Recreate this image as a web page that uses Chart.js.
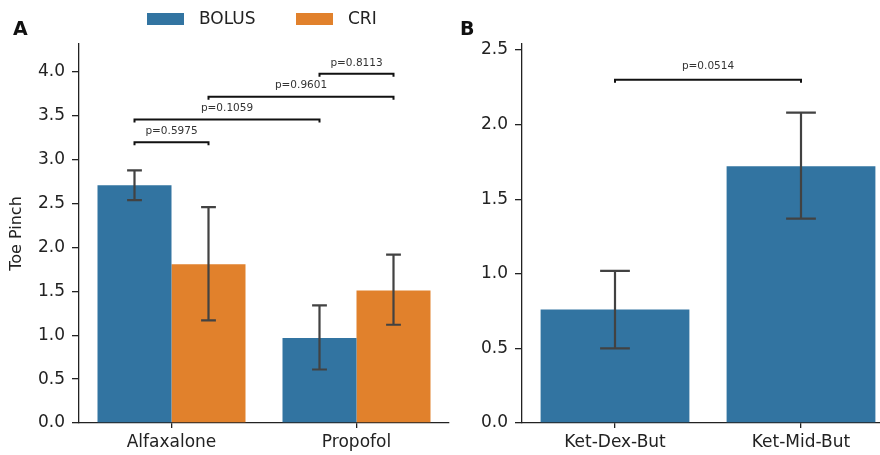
<!DOCTYPE html>
<html>
<head>
<meta charset="utf-8">
<script src="https://cdn.jsdelivr.net/npm/chart.js@4.4.1/dist/chart.umd.min.js"></script>
<style>
  html, body { margin: 0; padding: 0; background: #fff; overflow: hidden; }
  #wrap { position: relative; width: 880px; height: 455px; overflow: hidden; }
  canvas { position: absolute; top: 0; }
  #chartA { left: 0; }
  #chartB { left: 440px; }
</style>
</head>
<body>
<div id="wrap">
  <canvas id="chartA" width="460" height="455"></canvas>
  <canvas id="chartB" width="470" height="455"></canvas>
</div>
<script>
// Panel A: single-agent protocols, bolus vs CRI
const drugs = ["Alfaxalone", "Propofol"];
const bolusMean = [2.71, 0.97];
const bolusLow = [2.54, 0.61];
const bolusHigh = [2.88, 1.34];
const criMean = [1.81, 1.51];
const criLow = [1.17, 1.12];
const criHigh = [2.46, 1.92];
const ticksA = [0, 0.5, 1, 1.5, 2, 2.5, 3, 3.5, 4];

// comparisons in panel A: [datasetIndex, categoryIndex]
const pTextA = ["p=0.5975", "p=0.1059", "p=0.9601", "p=0.8113"];
const pLevelA = [3.2, 3.46, 3.72, 3.98];
const pFromA = [[0, 0], [0, 0], [1, 0], [0, 1]];
const pToA = [[1, 0], [0, 1], [1, 1], [1, 1]];

// Panel B: combination protocols
const combos = ["Ket-Dex-But", "Ket-Mid-But"];
const comboMean = [0.76, 1.72];
const comboLow = [0.50, 1.37];
const comboHigh = [1.02, 2.08];
const ticksB = [0, 0.5, 1, 1.5, 2, 2.5];

const pTextB = ["p=0.0514"];
const pLevelB = [2.3];
const pFromB = [[0, 0]];
const pToB = [[0, 1]];

const FONT = '"DejaVu Sans", sans-serif';
const INK = "#222";
const BLUE = "#3274a1";
const ORANGE = "#e1812c";

// vertical error bars with caps, taken from errLow / errHigh on each dataset
const errorBars = {
  id: "errorBars",
  afterDatasetsDraw(chart) {
    const { ctx } = chart;
    const y = chart.scales.y;
    ctx.save();
    ctx.strokeStyle = "#424242";
    ctx.lineWidth = 2.2;
    chart.data.datasets.forEach((ds, i) => {
      chart.getDatasetMeta(i).data.forEach((bar, j) => {
        const top = y.getPixelForValue(ds.errHigh[j]);
        const bot = y.getPixelForValue(ds.errLow[j]);
        const cap = bar.width * 0.1;
        ctx.beginPath();
        ctx.moveTo(bar.x, top); ctx.lineTo(bar.x, bot);
        ctx.moveTo(bar.x - cap, top); ctx.lineTo(bar.x + cap, top);
        ctx.moveTo(bar.x - cap, bot); ctx.lineTo(bar.x + cap, bot);
        ctx.stroke();
      });
    });
    ctx.restore();
  }
};

// significance brackets between two bars
function bracketPlugin(texts, levels, from, to, gap) {
  return {
    id: "brackets",
    afterDatasetsDraw(chart) {
      const { ctx } = chart;
      const y = chart.scales.y;
      ctx.save();
      texts.forEach((text, k) => {
        const a = chart.getDatasetMeta(from[k][0]).data[from[k][1]];
        const b = chart.getDatasetMeta(to[k][0]).data[to[k][1]];
        const py = y.getPixelForValue(levels[k]);
        ctx.strokeStyle = "#111";
        ctx.lineWidth = 2;
        ctx.beginPath();
        ctx.moveTo(a.x, py + 3);
        ctx.lineTo(a.x, py);
        ctx.lineTo(b.x, py);
        ctx.lineTo(b.x, py + 3);
        ctx.stroke();
        ctx.fillStyle = "#333";
        ctx.font = "10.5px " + FONT;
        ctx.textAlign = "center";
        ctx.textBaseline = "middle";
        ctx.fillText(text, (a.x + b.x) / 2, py - gap);
      });
      ctx.restore();
    }
  };
}

// panel letter and (optionally) the legend
function decorPlugin(letter, lx, withLegend) {
  return {
    id: "decor",
    afterDraw(chart) {
      const { ctx } = chart;
      ctx.save();
      ctx.fillStyle = "#111";
      ctx.font = "bold 19px " + FONT;
      ctx.textBaseline = "alphabetic";
      ctx.textAlign = "left";
      ctx.fillText(letter, lx, 34.5);
      if (withLegend) {
        const swatchX = [147, 296];
        ctx.font = "17px " + FONT;
        ctx.textBaseline = "middle";
        chart.data.datasets.forEach((ds, i) => {
          ctx.fillStyle = ds.backgroundColor;
          ctx.fillRect(swatchX[i], 13, 37, 12);
          ctx.fillStyle = INK;
          ctx.fillText(ds.label, swatchX[i] + 52, 19.5);
        });
      }
      ctx.restore();
    }
  };
}

function axes(maxY, tickVals, yWidth, yTitle) {
  return {
    x: {
      offset: true,
      afterFit: s => { s.height = 32; },
      ticks: { font: { family: FONT, size: 17 }, color: INK, padding: 4 },
      grid: { display: true, offset: false, drawOnChartArea: false, tickLength: 5, color: INK, lineWidth: 1.3 },
      border: { display: true, color: INK, width: 1.3 }
    },
    y: {
      min: 0,
      max: maxY,
      afterFit: s => { s.width = yWidth; },
      afterBuildTicks: s => { s.ticks = tickVals.map(v => ({ value: v })); },
      ticks: { font: { family: FONT, size: 17 }, color: INK, padding: 7, callback: v => Number(v).toFixed(1) },
      grid: { display: true, drawOnChartArea: false, tickLength: 7, color: INK, lineWidth: 1.3 },
      border: { display: true, color: INK, width: 1.3 },
      title: {
        display: !!yTitle,
        text: yTitle || "",
        font: { family: FONT, size: 16 },
        color: INK,
        padding: { top: 7, bottom: 0 }
      }
    }
  };
}

const common = {
  responsive: false,
  animation: false,
  devicePixelRatio: 1,
  plugins: { legend: { display: false }, tooltip: { enabled: false } }
};

new Chart(document.getElementById("chartA"), {
  type: "bar",
  data: {
    labels: drugs,
    datasets: [
      { label: "BOLUS", data: bolusMean, errLow: bolusLow, errHigh: bolusHigh,
        backgroundColor: BLUE, categoryPercentage: 0.8, barPercentage: 1 },
      { label: "CRI", data: criMean, errLow: criLow, errHigh: criHigh,
        backgroundColor: ORANGE, categoryPercentage: 0.8, barPercentage: 1 }
    ]
  },
  options: {
    ...common,
    layout: { padding: { top: 44, right: 11, left: 0, bottom: 0 } },
    scales: axes(4.32, ticksA, 79, "Toe Pinch")
  },
  plugins: [errorBars, bracketPlugin(pTextA, pLevelA, pFromA, pToA, 11), decorPlugin("A", 13, true)]
});

new Chart(document.getElementById("chartB"), {
  type: "bar",
  data: {
    labels: combos,
    datasets: [
      { label: "Toe Pinch", data: comboMean, errLow: comboLow, errHigh: comboHigh,
        backgroundColor: BLUE, categoryPercentage: 0.8, barPercentage: 1 }
    ]
  },
  options: {
    ...common,
    layout: { padding: { top: 44, right: 16, left: 0, bottom: 0 } },
    scales: axes(2.54, ticksB, 82, null)
  },
  plugins: [errorBars, bracketPlugin(pTextB, pLevelB, pFromB, pToB, 14), decorPlugin("B", 20, false)]
});
</script>
</body>
</html>
